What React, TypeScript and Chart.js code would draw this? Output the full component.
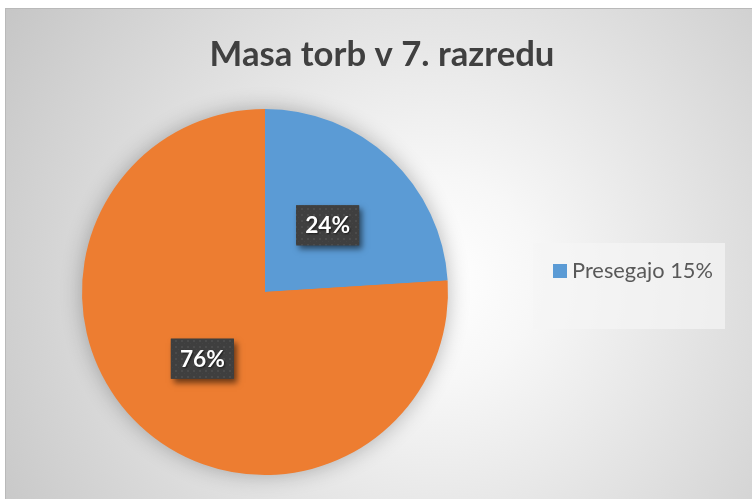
import React, { useEffect, useRef } from "react";
import { Chart, registerables } from "chart.js";

Chart.register(...registerables);

// ---- data ----
const chartTitle = "Masa torb v 7. razredu";
const categories = ["Presegajo 15%", ""];
const values = [24, 76];
const sliceColors = ["#5B9BD5", "#ED7D31"];

const FONT = "Lato, 'Open Sans', 'Noto Sans', sans-serif";

function fitFont(ctx: CanvasRenderingContext2D, text: string, weight: string, target: number, base: number) {
  ctx.font = `${weight} ${base}px ${FONT}`;
  const w = ctx.measureText(text).width || 1;
  const size = base * target / w;
  return `${weight} ${size.toFixed(2)}px ${FONT}`;
}

let patternCache: CanvasPattern | null = null;
function getPattern(ctx: CanvasRenderingContext2D) {
  if (patternCache) return patternCache;
  const c = document.createElement("canvas");
  c.width = 6;
  c.height = 6;
  const p = c.getContext("2d")!;
  p.fillStyle = "#3f3f3f";
  p.fillRect(0, 0, 6, 6);
  p.fillStyle = "#4b4b4b";
  p.fillRect(1, 1, 2, 2);
  p.fillStyle = "#444444";
  p.fillRect(4, 4, 1, 1);
  patternCache = ctx.createPattern(c, "repeat");
  return patternCache;
}

const decorPlugin = {
  id: "decor",
  beforeDatasetsDraw(chart: any) {
    const ctx: CanvasRenderingContext2D = chart.ctx;
    const arc = chart.getDatasetMeta(0).data[0];
    if (!arc) return;
    const { x, y, outerRadius } = arc.getProps(["x", "y", "outerRadius"], true);
    ctx.save();
    ctx.shadowColor = "rgba(0,0,0,0.3)";
    ctx.shadowBlur = 22;
    ctx.fillStyle = "#ED7D31";
    ctx.beginPath();
    ctx.arc(x, y, outerRadius - 1, 0, Math.PI * 2);
    ctx.fill();
    ctx.restore();
  },
  afterDatasetsDraw(chart: any) {
    const ctx: CanvasRenderingContext2D = chart.ctx;
    const meta = chart.getDatasetMeta(0);
    const data: number[] = chart.data.datasets[0].data;
    const total = data.reduce((a, b) => a + b, 0);
    meta.data.forEach((arc: any, i: number) => {
      const pos = arc.tooltipPosition(true);
      const text = Math.round((data[i] / total) * 100) + "%";
      ctx.save();
      ctx.font = fitFont(ctx, text, "bold", 45, 22);
      const bw = 63;
      const bh = 40;
      const bx = pos.x - bw / 2;
      const by = pos.y - bh / 2;
      ctx.shadowColor = "rgba(0,0,0,0.55)";
      ctx.shadowBlur = 6;
      ctx.shadowOffsetX = 3;
      ctx.shadowOffsetY = 4;
      ctx.fillStyle = "#3f3f3f";
      ctx.fillRect(bx, by, bw, bh);
      ctx.shadowColor = "transparent";
      ctx.fillStyle = getPattern(ctx) as any;
      ctx.fillRect(bx, by, bw, bh);
      ctx.shadowColor = "rgba(0,0,0,0.6)";
      ctx.shadowBlur = 2;
      ctx.shadowOffsetX = 1;
      ctx.shadowOffsetY = 1;
      ctx.fillStyle = "#ffffff";
      ctx.textAlign = "center";
      ctx.textBaseline = "alphabetic";
      ctx.fillText(text, pos.x, pos.y + 8);
      ctx.restore();
    });
  },
  afterDraw(chart: any) {
    const ctx: CanvasRenderingContext2D = chart.ctx;
    // title
    ctx.save();
    ctx.font = fitFont(ctx, chartTitle, "bold", 345, 32);
    ctx.fillStyle = "#404040";
    ctx.textAlign = "center";
    ctx.textBaseline = "alphabetic";
    ctx.fillText(chartTitle, 376, 57);
    ctx.restore();

    // legend
    ctx.save();
    ctx.fillStyle = "rgba(245,245,245,0.7)";
    ctx.fillRect(527, 234, 192, 86);
    const shown = categories.map((c, i) => ({ c, i })).filter((o) => o.c !== "");
    shown.forEach((o, k) => {
      const yTop = 255 + k * 26;
      ctx.fillStyle = sliceColors[o.i];
      ctx.fillRect(547, yTop, 14, 14);
      ctx.font = fitFont(ctx, o.c, "normal", 141, 20);
      ctx.fillStyle = "#595959";
      ctx.textAlign = "left";
      ctx.textBaseline = "alphabetic";
      ctx.fillText(o.c, 566, yTop + 14);
    });
    ctx.restore();
  },
};

export default function App() {
  const ref = useRef<HTMLCanvasElement | null>(null);
  useEffect(() => {
    if (!ref.current) return;
    const chart = new Chart(ref.current, {
      type: "pie",
      data: {
        labels: categories,
        datasets: [
          {
            data: values,
            backgroundColor: sliceColors,
            borderWidth: 0,
            hoverOffset: 0,
          },
        ],
      },
      options: {
        responsive: false,
        maintainAspectRatio: false,
        animation: false,
        events: [],
        layout: { padding: { left: 76, top: 100, right: 304, bottom: 24 } },
        plugins: {
          legend: { display: false },
          title: { display: false },
          tooltip: { enabled: false },
        },
      },
      plugins: [decorPlugin],
    });
    return () => chart.destroy();
  }, []);

  return (
    <div
      style={{
        position: "fixed",
        left: 5,
        top: 8,
        width: 760,
        height: 505,
        border: "1px solid #b9b9b9",
        background:
          "radial-gradient(circle farthest-corner at 430px 270px, #ffffff 0%, #f7f7f7 20%, #c6c6c6 100%)",
        overflow: "hidden",
      }}
    >
      <canvas ref={ref} width={746} height={490} style={{ display: "block" }} />
    </div>
  );
}
